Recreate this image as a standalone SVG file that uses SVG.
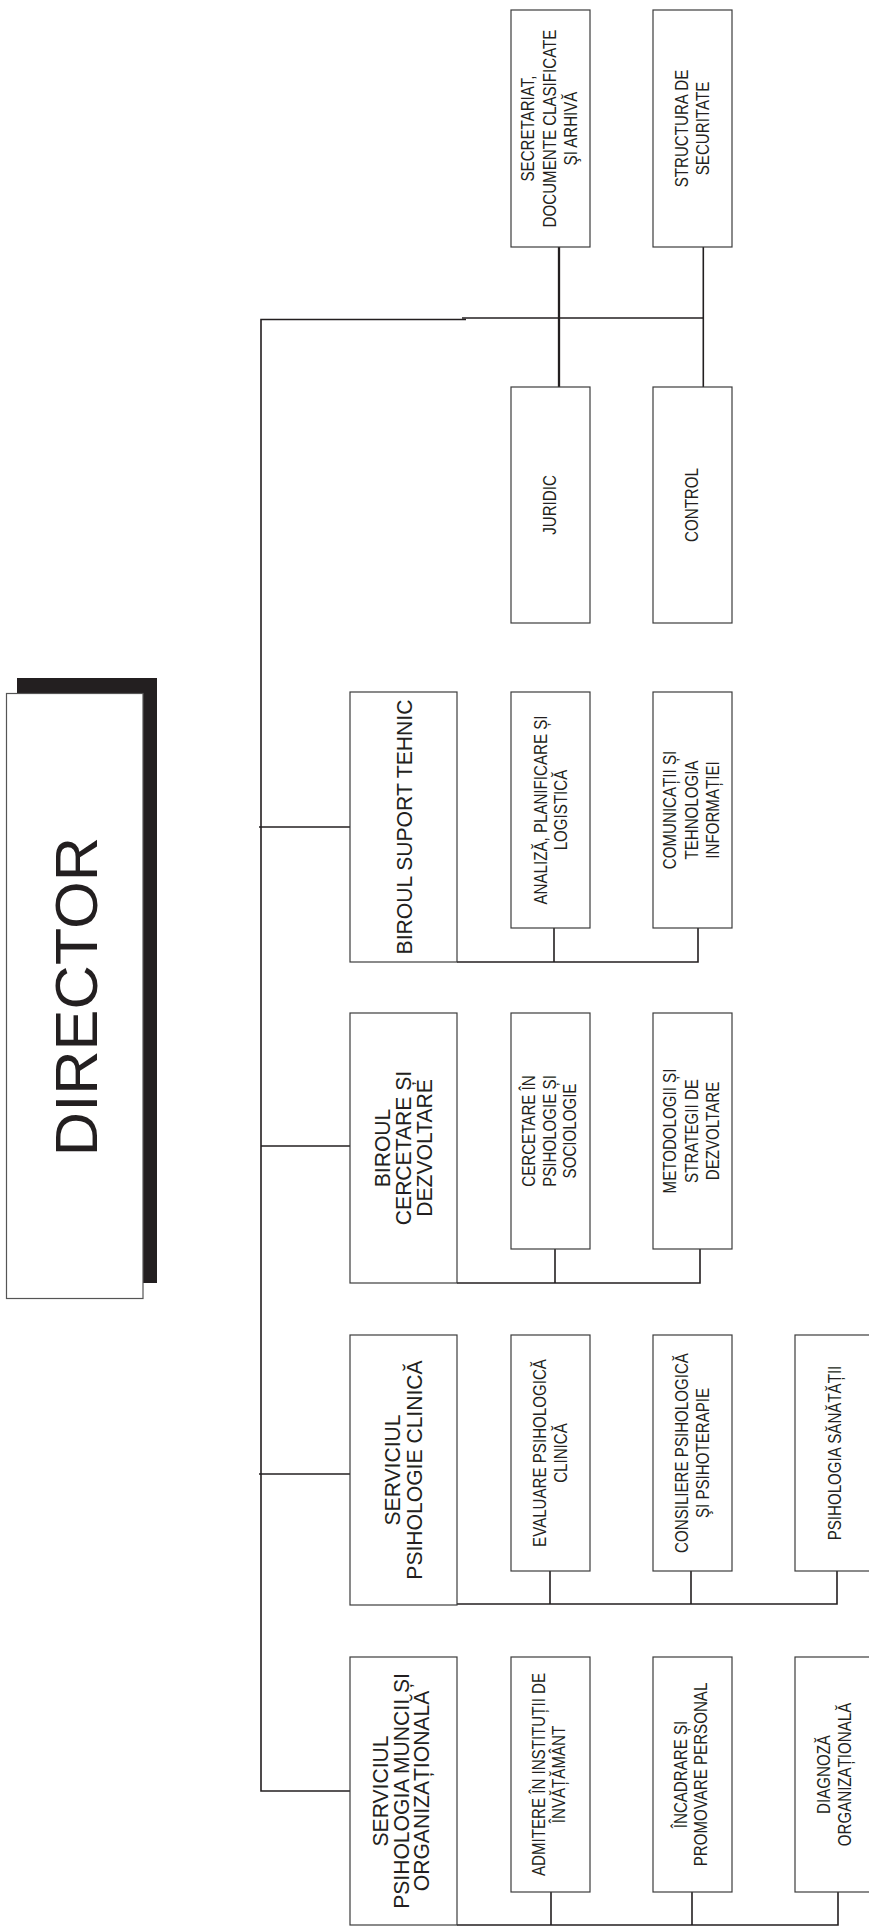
<svg xmlns="http://www.w3.org/2000/svg" width="869" height="1926" viewBox="0 0 869 1926">
<style>
.bg{fill:#ffffff}
.box{fill:#ffffff;stroke:#3c3c3c;stroke-width:1.2}
.ln{fill:none;stroke:#231f20;stroke-width:1.6}
.lnb{fill:none;stroke:#231f20;stroke-width:2.3}
.t{font-family:"Liberation Sans",Arial,Helvetica,sans-serif;font-size:18px;fill:#231f20;text-anchor:middle}
.h{font-size:22px}
.d{font-size:59px}
</style>
<rect class="bg" x="0" y="0" width="869" height="1926"/>

<g id="connectors">
  <path class="ln" d="M466,319.5 H261 V1791 H350"/>
  <path class="ln" d="M462,318 H703.3"/>
  <path class="lnb" d="M559,247 V387"/>
  <path class="ln" d="M703.3,247 V387"/>
  <path class="ln" d="M259,827 H350"/>
  <path class="ln" d="M261,1146 H350"/>
  <path class="ln" d="M259,1474 H350"/>
  <path class="ln" d="M457,962 H698 V928"/>
  <path class="ln" d="M554,962 V928"/>
  <path class="ln" d="M457,1283 H700 V1249"/>
  <path class="ln" d="M555,1283 V1249"/>
  <path class="ln" d="M457,1604 H837 V1571"/>
  <path class="ln" d="M550,1604 V1571"/>
  <path class="ln" d="M691,1604 V1571"/>
  <path class="ln" d="M457,1925 H838 V1892"/>
  <path class="ln" d="M551,1925 V1892"/>
  <path class="ln" d="M692,1925 V1892"/>
</g>

<g id="director">
  <rect x="17" y="678" width="140" height="605" fill="#231f20"/>
  <rect x="6.5" y="693.5" width="136.5" height="605" fill="#ffffff" stroke="#555555" stroke-width="1.2"/>
  <text class="t d" transform="translate(76,996.5) rotate(-90) scale(1.04,1)"><tspan x="0" y="20.7">DIRECTOR</tspan></text>
</g>

<g id="secretariat">
  <rect class="box" x="511" y="10" width="79" height="237"/>
  <text class="t" transform="translate(550.5,128.5) rotate(-90) scale(0.84,1)"><tspan x="0" y="-16.5">SECRETARIAT,</tspan><tspan x="0" y="5">DOCUMENTE CLASIFICATE</tspan><tspan x="0" y="26.5">ŞI ARHIVĂ</tspan></text>
</g>
<g id="structura">
  <rect class="box" x="653" y="10" width="79" height="237"/>
  <text class="t" transform="translate(692.5,128.5) rotate(-90) scale(0.84,1)"><tspan x="0" y="-5">STRUCTURA DE</tspan><tspan x="0" y="16">SECURITATE</tspan></text>
</g>
<g id="juridic">
  <rect class="box" x="511" y="387" width="79" height="236"/>
  <text class="t" transform="translate(550.5,505) rotate(-90) scale(0.84,1)"><tspan x="0" y="5.5">JURIDIC</tspan></text>
</g>
<g id="control">
  <rect class="box" x="653" y="387" width="79" height="236"/>
  <text class="t" transform="translate(692.5,505) rotate(-90) scale(0.84,1)"><tspan x="0" y="5.5">CONTROL</tspan></text>
</g>

<g id="biroul-suport">
  <rect class="box" x="350" y="692" width="107" height="270"/>
  <text class="t h" transform="translate(403.5,827) rotate(-90) scale(0.96,1)"><tspan x="0" y="8.5">BIROUL SUPORT TEHNIC</tspan></text>
</g>
<g id="analiza">
  <rect class="box" x="511" y="692" width="79" height="236"/>
  <text class="t" transform="translate(550.5,810) rotate(-90) scale(0.84,1)"><tspan x="0" y="-4">ANALIZĂ, PLANIFICARE ȘI</tspan><tspan x="0" y="17">LOGISTICĂ</tspan></text>
</g>
<g id="comunicatii">
  <rect class="box" x="653" y="692" width="79" height="236"/>
  <text class="t" transform="translate(692.5,810) rotate(-90) scale(0.84,1)"><tspan x="0" y="-16.5">COMUNICAȚII ȘI</tspan><tspan x="0" y="5">TEHNOLOGIA</tspan><tspan x="0" y="26.5">INFORMAȚIEI</tspan></text>
</g>

<g id="biroul-cercetare">
  <rect class="box" x="350" y="1013" width="107" height="270"/>
  <text class="t h" transform="translate(403.5,1148) rotate(-90) scale(0.96,1)"><tspan x="0" y="-14">BIROUL</tspan><tspan x="0" y="7.5">CERCETARE ȘI</tspan><tspan x="0" y="29">DEZVOLTARE</tspan></text>
</g>
<g id="cercetare">
  <rect class="box" x="511" y="1013" width="79" height="236"/>
  <text class="t" transform="translate(550.5,1131) rotate(-90) scale(0.84,1)"><tspan x="0" y="-16">CERCETARE ÎN</tspan><tspan x="0" y="5">PSIHOLOGIE ȘI</tspan><tspan x="0" y="26">SOCIOLOGIE</tspan></text>
</g>
<g id="metodologii">
  <rect class="box" x="653" y="1013" width="79" height="236"/>
  <text class="t" transform="translate(692.5,1131) rotate(-90) scale(0.84,1)"><tspan x="0" y="-16.5">METODOLOGII ȘI</tspan><tspan x="0" y="5">STRATEGII DE</tspan><tspan x="0" y="26.5">DEZVOLTARE</tspan></text>
</g>

<g id="serviciul-clinica">
  <rect class="box" x="350" y="1335" width="107" height="270"/>
  <text class="t h" transform="translate(403.5,1470) rotate(-90) scale(0.96,1)"><tspan x="0" y="-3.5">SERVICIUL</tspan><tspan x="0" y="18.2">PSIHOLOGIE CLINICĂ</tspan></text>
</g>
<g id="evaluare">
  <rect class="box" x="511" y="1335" width="79" height="236"/>
  <text class="t" transform="translate(550.5,1453) rotate(-90) scale(0.84,1)"><tspan x="0" y="-5">EVALUARE PSIHOLOGICĂ</tspan><tspan x="0" y="16">CLINICĂ</tspan></text>
</g>
<g id="consiliere">
  <rect class="box" x="653" y="1335" width="79" height="236"/>
  <text class="t" transform="translate(692.5,1453) rotate(-90) scale(0.84,1)"><tspan x="0" y="-5">CONSILIERE PSIHOLOGICĂ</tspan><tspan x="0" y="16">ŞI PSIHOTERAPIE</tspan></text>
</g>
<g id="sanatatii">
  <rect class="box" x="795" y="1335" width="79" height="236"/>
  <text class="t" transform="translate(834.5,1453) rotate(-90) scale(0.84,1)"><tspan x="0" y="6.5">PSIHOLOGIA SĂNĂTĂȚII</tspan></text>
</g>

<g id="serviciul-muncii">
  <rect class="box" x="350" y="1657" width="107" height="268"/>
  <text class="t h" transform="translate(403.5,1791) rotate(-90) scale(0.96,1)"><tspan x="0" y="-16">SERVICIUL</tspan><tspan x="0" y="5">PSIHOLOGIA MUNCII ȘI</tspan><tspan x="0" y="26">ORGANIZAȚIONALĂ</tspan></text>
</g>
<g id="admitere">
  <rect class="box" x="511" y="1657" width="79" height="235"/>
  <text class="t" transform="translate(550.5,1774.5) rotate(-90) scale(0.84,1)"><tspan x="0" y="-5.5">ADMITERE ÎN INSTITUȚII DE</tspan><tspan x="0" y="14.5">ÎNVĂȚĂMÂNT</tspan></text>
</g>
<g id="incadrare">
  <rect class="box" x="653" y="1657" width="79" height="235"/>
  <text class="t" transform="translate(692.5,1774.5) rotate(-90) scale(0.84,1)"><tspan x="0" y="-5.5">ÎNCADRARE ȘI</tspan><tspan x="0" y="14.5">PROMOVARE PERSONAL</tspan></text>
</g>
<g id="diagnoza">
  <rect class="box" x="795" y="1657" width="79" height="235"/>
  <text class="t" transform="translate(834.5,1774.5) rotate(-90) scale(0.84,1)"><tspan x="0" y="-5">DIAGNOZĂ</tspan><tspan x="0" y="16">ORGANIZAȚIONALĂ</tspan></text>
</g>
</svg>
